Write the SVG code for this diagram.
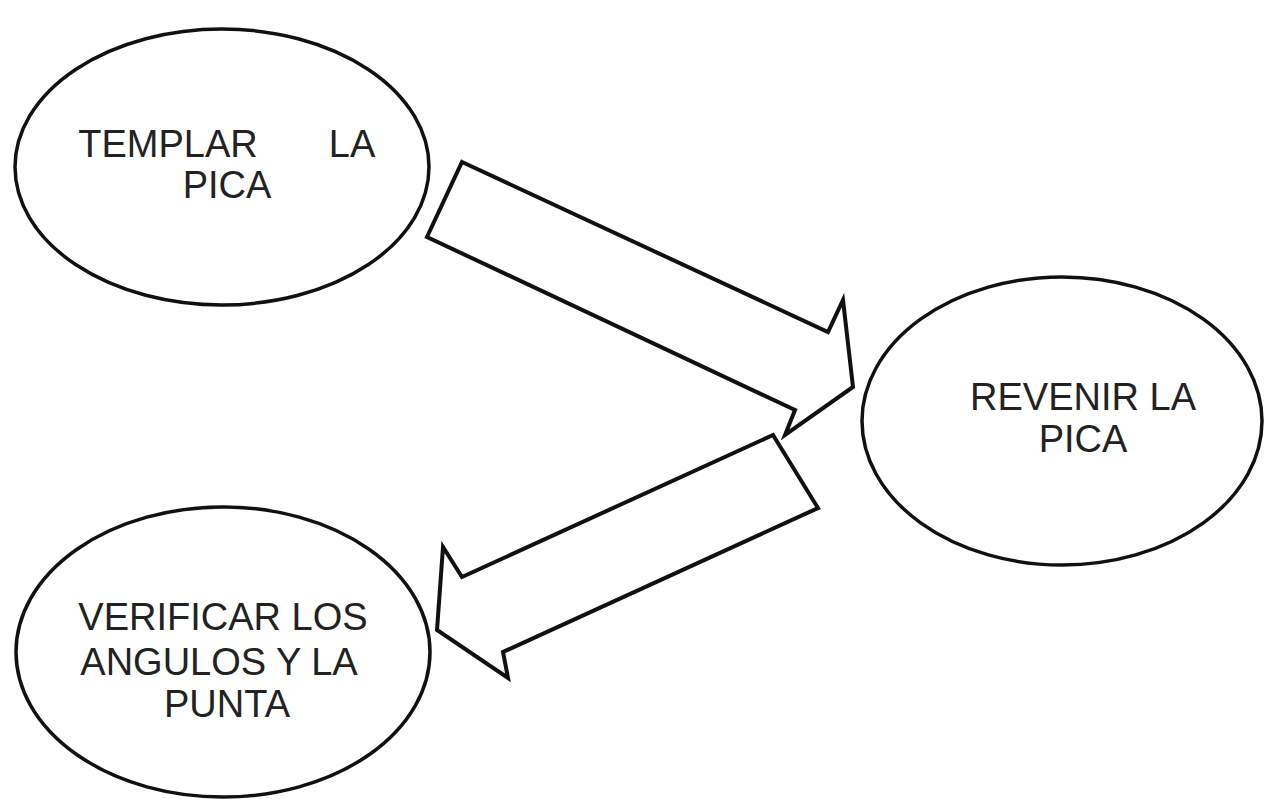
<svg xmlns="http://www.w3.org/2000/svg" width="1264" height="799" viewBox="0 0 1264 799">
<style>
.node ellipse{fill:#fff;stroke:#111;stroke-width:3.5}
.node text{font-family:"Liberation Sans",Arial,sans-serif;font-size:38px;fill:#222;text-anchor:middle}
.conn polygon{fill:#fff;stroke:#111;stroke-width:4;stroke-linejoin:miter}
</style>
<rect width="1264" height="799" fill="#fff"/>
<g id="connectors" class="conn">
<polygon points="462,162 828,332 843,300 853,387 785,435 795,410 427,237"/>
<polygon points="773,435 818,508 503,652 508,678 437,630 443,547 462,577"/>
</g>
<g id="templar" class="node">
<ellipse cx="222" cy="167" rx="207" ry="138"/>
<text x="168" y="157">TEMPLAR</text>
<text x="352" y="157">LA</text>
<text x="227" y="198">PICA</text>
</g>
<g id="revenir" class="node">
<ellipse cx="1062" cy="421" rx="200" ry="144"/>
<text x="1083" y="410">REVENIR LA</text>
<text x="1083" y="452">PICA</text>
</g>
<g id="verificar" class="node">
<ellipse cx="223" cy="652" rx="207" ry="145"/>
<text x="223" y="630">VERIFICAR LOS</text>
<text x="219" y="675">ANGULOS Y LA</text>
<text x="227" y="717">PUNTA</text>
</g>
</svg>
